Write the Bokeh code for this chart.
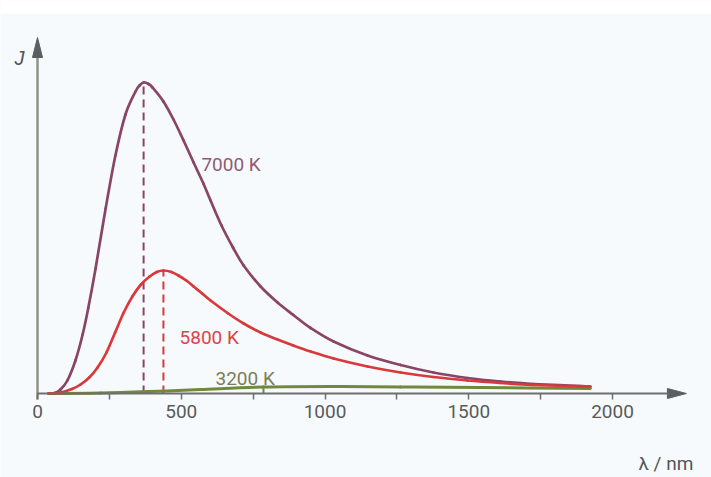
from bokeh.plotting import figure
from bokeh.models import LinearAxis, FixedTicker, Label, BoxAnnotation, Range1d
from bokeh.embed import file_html
from bokeh.resources import INLINE

# ---- data (wavelength in nm, J in arbitrary units) ----
lam_7000 = [38, 60, 80, 104, 132, 157, 177, 202, 237, 271, 306, 341, 355, 369, 386, 400,
            438, 473, 508, 543, 577, 602, 640, 680, 717, 776, 835, 890, 950, 1030, 1148,
            1263, 1377, 1496, 1610, 1725, 1923]
j_7000 = [0, 0.5, 4, 13, 33, 59, 86, 125, 185, 238, 279, 302, 308, 311, 309.5, 306,
          292, 274, 253, 231, 210, 193, 168, 146, 128, 107, 91, 78.5, 65.5, 52, 38,
          28.5, 21, 15.5, 12, 9.5, 7]

lam_5800 = [38, 80, 120, 150, 180, 209, 240, 270, 300, 330, 360, 390, 415, 438, 466, 490,
            520, 543, 575, 602, 661, 717, 776, 835, 890, 950, 1030, 1148, 1263, 1377,
            1496, 1610, 1725, 1923]
j_5800 = [0, 1, 4.5, 9, 16, 26, 41, 61, 81, 97, 109, 117, 121.5, 123, 121.5, 118,
          112.5, 107, 99.5, 93, 80.5, 70, 61, 54, 48, 42, 35, 27, 21, 16.5,
          13, 10.5, 8.5, 7]

lam_3200 = [38, 219, 393, 567, 786, 1019, 1263, 1541, 1923]
j_3200 = [0, 0.5, 2, 4, 6.5, 7, 6.5, 6, 5]

peak_lam = [369, 438, 786]
peak_j = [311, 123, 6]

x_ticks = [0, 250, 500, 750, 1000, 1250, 1500, 1750, 2000]
x_tick_labels = ["0", "", "500", "", "1000", "", "1500", "", "2000"]

# ---- styling ----
BG = "#f6fafd"
PURPLE = "#8a4466"
RED = "#d9393b"
GREEN = "#6f8a3c"
AXIS = "#6e6e6e"
FONT = "Roboto"
FS = "19px"

W, H = 711, 477
PXX = 0.2875          # pixels per nm
PXY = 1.0             # pixels per J unit
X0 = -37 / PXX
X1 = X0 + W / PXX
Y1 = 393 / PXY
Y0 = Y1 - H / PXY

p = figure(width=W, height=H, x_range=Range1d(X0, X1), y_range=Range1d(Y0, Y1),
           x_axis_location=None, y_axis_location=None, toolbar_location=None,
           output_backend="svg", min_border=0, outline_line_color=None,
           background_fill_color=BG, border_fill_color=BG)
p.grid.visible = False

# white strip at the top
p.add_layout(BoxAnnotation(bottom=Y1 - 13 / PXY, fill_color="white", fill_alpha=1.0,
                           line_color=None, level="underlay"))

# x axis (with ticks / labels) at J = 0
xaxis = LinearAxis(fixed_location=0, bounds=(0, 2195),
                   ticker=FixedTicker(ticks=x_ticks),
                   major_label_overrides={t: l for t, l in zip(x_ticks, x_tick_labels)},
                   axis_line_color=AXIS, axis_line_width=2,
                   major_tick_line_color=AXIS, major_tick_line_width=1.5,
                   major_tick_in=0, major_tick_out=6,
                   minor_tick_line_color=None,
                   major_label_standoff=5,
                   major_label_text_font=FONT,
                   major_label_text_font_size=FS,
                   major_label_text_color="#5a5a5a")
p.add_layout(xaxis, "below")

# y axis line
p.segment(x0=[0], y0=[-6 / PXY], x1=[0], y1=[337], line_color="#8d9484", line_width=2.5)

# arrow heads
p.patch([2191, 2257, 2191], [-5 / PXY, 0, 5 / PXY], fill_color="#5b5f5f", line_color="#5b5f5f")
p.patch([-5 / PXX, 0, 5 / PXX], [336, 356, 336], fill_color="#5b5f5f", line_color="#5b5f5f")

# peak markers
p.segment(x0=peak_lam, y0=[0, 0, 0], x1=peak_lam, y1=peak_j,
          line_color=[PURPLE, RED, GREEN], line_width=2, line_dash="8 5")


# smooth curves through the read points (Catmull-Rom drawn as cubic Bezier segments)
def smooth(xs, ys, color, width):
    n = len(xs)
    X = [xs[0]] + list(xs) + [xs[-1]]
    Y = [ys[0]] + list(ys) + [ys[-1]]
    x0, y0, x1, y1, cx0, cy0, cx1, cy1 = [], [], [], [], [], [], [], []
    for i in range(1, n):
        xa, ya, xb, yb = X[i], Y[i], X[i + 1], Y[i + 1]
        x0.append(xa); y0.append(ya); x1.append(xb); y1.append(yb)
        cx0.append(xa + (X[i + 1] - X[i - 1]) / 6); cy0.append(ya + (Y[i + 1] - Y[i - 1]) / 6)
        cx1.append(xb - (X[i + 2] - X[i]) / 6); cy1.append(yb - (Y[i + 2] - Y[i]) / 6)
    p.bezier(x0=x0, y0=y0, x1=x1, y1=y1, cx0=cx0, cy0=cy0, cx1=cx1, cy1=cy1,
             line_color=color, line_width=width, line_cap="round")


smooth(lam_3200, j_3200, GREEN, 3)
smooth(lam_7000, j_7000, PURPLE, 2.7)
smooth(lam_5800, j_5800, RED, 2.7)


# labels
def lab(x, y, text, color, style="normal", font=FONT, size=FS):
    p.add_layout(Label(x=x, y=y, text=text, text_font=font, text_font_size=size,
                       text_color=color, text_baseline="alphabetic",
                       text_font_style=style))


lab(570, 229, "7000 K", "#8f5a75")
lab(494, 56, "5800 K", "#dc4448")
lab(619, 15, "3200 K", "#7c7d57")
lab(2090, -70, "λ / nm", "#555555")
lab(-80, 336, "J", "#555555", style="italic", font="Liberation Sans", size="20px")
lab(600, -96, "Fig. 8", "#111111", style="bold", font="Liberation Sans", size="22px")

open("out.html", "w").write(file_html(p, INLINE))
